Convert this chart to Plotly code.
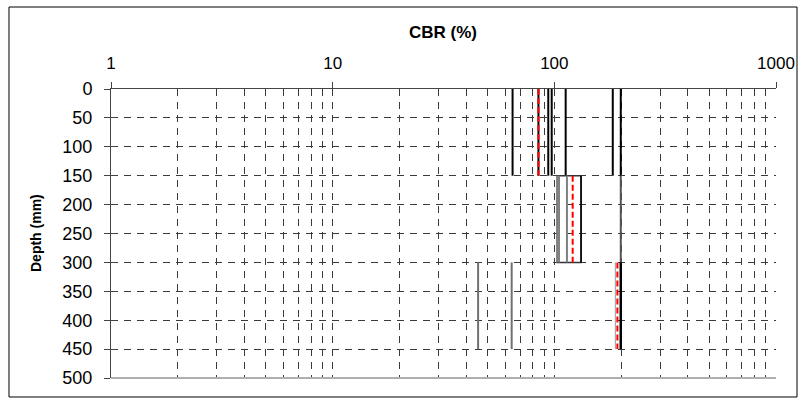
import plotly.graph_objects as go

# ---- data ----
layer_top = [0, 150, 300]
layer_bottom = [150, 300, 450]

layer1_black = [64.8, 84.8, 93.9, 97.3, 112.5, 183.5, 199.4]
layer2_gray = [103.1, 105.0, 114.0]
layer2_black = [132.0]
layer2_dark = [199.4]
layer3_gray = [45.3, 64.2]
layer3_thin = [188.5]
layer3_black = [199.4]
layer_mean = [84.8, 121.0, 192.5]

x_major = [1, 10, 100, 1000]
x_grid = [m * d for d in [1, 10, 100] for m in range(1, 10)] + [1000]
y_ticks = list(range(0, 501, 50))

FONT = "Arial, Liberation Sans, sans-serif"

fig = go.Figure()


def add_v(values, top, bottom, color, width, dash=None):
    for v in values:
        fig.add_trace(go.Scatter(x=[v, v], y=[top, bottom], mode="lines",
                                 line=dict(color=color, width=width, dash=dash),
                                 showlegend=False, hoverinfo="skip"))


# layer 1 (0-150)
add_v(layer1_black, layer_top[0], layer_bottom[0], "black", 2)
# layer 2 (150-300)
box_lo, box_hi = min(layer2_gray), max(layer2_black)
fig.add_trace(go.Scatter(x=[box_lo, box_hi, box_hi, box_lo, box_lo],
                         y=[layer_top[1], layer_top[1], layer_bottom[1], layer_bottom[1], layer_top[1]],
                         mode="lines", line=dict(color="#333333", width=1.5),
                         showlegend=False, hoverinfo="skip"))
add_v(layer2_gray, layer_top[1], layer_bottom[1], "#808080", 2)
add_v(layer2_black, layer_top[1], layer_bottom[1], "black", 1.5)
add_v(layer2_dark, layer_top[1], layer_bottom[1], "#555555", 2)
# layer 3 (300-450)
add_v(layer3_gray, layer_top[2], layer_bottom[2], "#707070", 2)
add_v(layer3_thin, layer_top[2], layer_bottom[2], "#999999", 1)
add_v(layer3_black, layer_top[2], layer_bottom[2], "black", 2.5)
# means (red dashed)
for i, m in enumerate(layer_mean):
    add_v([m], layer_top[i], layer_bottom[i], "#ff0000", 2, "6px,3px")

# invisible trace on overlay axes to hold tick marks
fig.add_trace(go.Scatter(x=[1, 1000], y=[0, 500], xaxis="x2", yaxis="y2",
                         mode="markers", marker=dict(opacity=0),
                         showlegend=False, hoverinfo="skip"))

fig.update_layout(
    width=803, height=400,
    margin=dict(l=111, r=27, t=89, b=22, autoexpand=False),
    paper_bgcolor="white", plot_bgcolor="white",
    font=dict(family=FONT, color="black"),
    xaxis=dict(type="log", range=[0, 3], side="top", automargin=False,
               tickvals=x_grid,
               ticktext=[str(v) if v in x_major else "" for v in x_grid],
               ticks="", showgrid=True, gridcolor="#3a3a3a", gridwidth=1,
               griddash="7px,6px", showline=True, linecolor="#444444", linewidth=1,
               tickfont=dict(size=17, family=FONT), ticklabelstandoff=12,
               zeroline=False),
    yaxis=dict(range=[500, 0], tickvals=y_ticks, ticks="outside", ticklen=6,
               automargin=False,
               tickcolor="#444444", showgrid=True, gridcolor="#3a3a3a", gridwidth=1,
               griddash="7px,6px", showline=True, linecolor="#444444", linewidth=1,
               tickfont=dict(size=18, family=FONT), ticklabelstandoff=8,
               zeroline=False),
    xaxis2=dict(type="log", range=[0, 3], overlaying="x", side="top",
                automargin=False,
                tickvals=x_major, ticktext=["", "", "", ""], ticks="outside",
                ticklen=6, tickcolor="#444444", showgrid=False, showline=False,
                zeroline=False),
    yaxis2=dict(range=[500, 0], overlaying="y", side="left", tickvals=y_ticks,
                automargin=False,
                ticktext=[""] * len(y_ticks), ticks="inside", ticklen=5,
                tickcolor="#444444", showgrid=False, showline=False, zeroline=False),
    annotations=[
        dict(text="<b>CBR (%)</b>", xref="paper", yref="paper",
             x=(443 - 111) / 665, y=(378 - 32) / 289, xanchor="center", yanchor="middle",
             showarrow=False, font=dict(size=17, family=FONT)),
        dict(text="<b>Depth (mm)</b>", xref="paper", yref="paper",
             x=(36 - 111) / 665, y=(378 - 233) / 289, xanchor="center", yanchor="middle",
             textangle=-90, showarrow=False, font=dict(size=14, family=FONT)),
    ],
    shapes=[
        dict(type="line", xref="paper", yref="paper", x0=0, x1=1, y0=0, y1=0,
             line=dict(color="#b0b0b0", width=2)),
        dict(type="rect", xref="paper", yref="paper",
             x0=-0.1534, x1=1.0316, y0=-0.0657, y1=1.2837,
             line=dict(color="black", width=1)),
    ],
)

fig.write_html("out.html", config={"displayModeBar": False},
               post_script="document.body.style.margin='0';document.body.style.overflow='hidden';")
